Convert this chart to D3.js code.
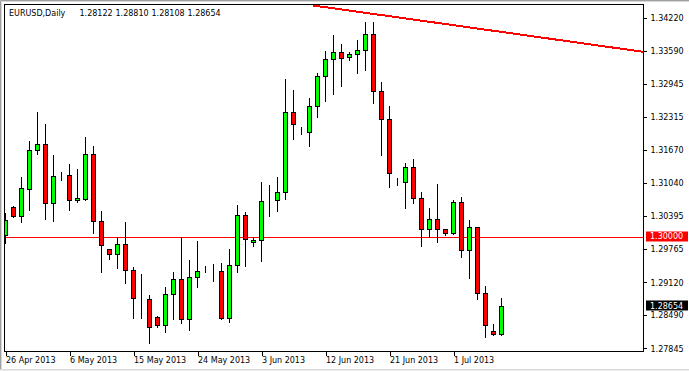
<!DOCTYPE html>
<html>
<head>
<meta charset="utf-8">
<script src="https://cdn.jsdelivr.net/npm/d3@7"></script>
<style>
  html, body { margin: 0; padding: 0; background: #ffffff; }
  svg { display: block; }
  text { font-family: "DejaVu Sans", Verdana, sans-serif; font-size: 8px; }
</style>
</head>
<body>
<svg id="chart" width="689" height="371"></svg>
<script>
// ---------------- data ----------------
const symbolTitle = "EURUSD,Daily";
const dates = [
  "2013-04-26","2013-04-28","2013-04-29","2013-04-30","2013-05-01","2013-05-02","2013-05-03","2013-05-05",
  "2013-05-06","2013-05-07","2013-05-08","2013-05-09","2013-05-10","2013-05-12","2013-05-13","2013-05-14",
  "2013-05-15","2013-05-16","2013-05-17","2013-05-19","2013-05-20","2013-05-21","2013-05-22","2013-05-23",
  "2013-05-24","2013-05-26","2013-05-27","2013-05-28","2013-05-29","2013-05-30","2013-05-31","2013-06-02",
  "2013-06-03","2013-06-04","2013-06-05","2013-06-06","2013-06-07","2013-06-09","2013-06-10","2013-06-11",
  "2013-06-12","2013-06-13","2013-06-14","2013-06-16","2013-06-17","2013-06-18","2013-06-19","2013-06-20",
  "2013-06-21","2013-06-23","2013-06-24","2013-06-25","2013-06-26","2013-06-27","2013-06-28","2013-06-30",
  "2013-07-01","2013-07-02","2013-07-03","2013-07-04","2013-07-05","2013-07-07","2013-07-08"
];
const opens = [
  1.30031,1.30565,1.30392,1.30913,1.31665,1.31787,1.30642,1.31172,1.31183,1.30700,
  1.30731,1.31594,1.30295,1.29755,1.29658,1.29851,1.29350,1.28812,1.28802,1.28443,
  1.28289,1.28887,1.29176,1.28404,1.29215,1.29352,1.29345,1.29330,1.28424,1.29446,
  1.30411,1.29890,1.29925,1.30696,1.30697,1.30855,1.32398,1.32015,1.32012,1.32514,
  1.33093,1.33421,1.33556,1.33459,1.33517,1.33594,1.33903,1.32803,1.32263,1.31043,
  1.31048,1.31337,1.30739,1.30141,1.30334,1.30141,1.30064,1.30662,1.29741,1.30191,
  1.28906,1.28184,1.28122
];
const highs = [
  1.30450,1.30590,1.31150,1.31839,1.32404,1.32173,1.31574,1.31252,1.31401,1.31304,
  1.31927,1.31748,1.30494,1.29762,1.29986,1.30276,1.29408,1.29278,1.28867,1.28468,
  1.29028,1.29317,1.29986,1.29549,1.29915,1.29427,1.29471,1.29485,1.29761,1.30615,
  1.30480,1.29986,1.31053,1.30996,1.31144,1.33041,1.32823,1.32115,1.32668,1.33156,
  1.33581,1.33890,1.33722,1.33556,1.33787,1.34135,1.34140,1.32977,1.32514,1.31125,
  1.31414,1.31491,1.30855,1.30546,1.31015,1.30150,1.30706,1.30758,1.30314,1.30195,
  1.29047,1.28314,1.28810
];
const lows = [
  1.29882,1.30372,1.30287,1.30519,1.31588,1.30345,1.30307,1.31086,1.30519,1.30662,
  1.30700,1.30075,1.29323,1.29574,1.29400,1.29099,1.28424,1.28435,1.27953,1.28262,
  1.28165,1.28404,1.28327,1.28192,1.29022,1.29311,1.29143,1.28404,1.28358,1.29311,
  1.29427,1.29824,1.29535,1.30403,1.30494,1.30731,1.31889,1.31980,1.31754,1.32302,
  1.32622,1.32757,1.32911,1.33413,1.33162,1.33220,1.32583,1.31580,1.30963,1.31001,
  1.30558,1.30642,1.29824,1.29986,1.29890,1.30037,1.30060,1.29612,1.29207,1.28802,
  1.28057,1.28096,1.28108
];
const closes = [
  1.30320,1.30392,1.30932,1.31665,1.31787,1.30642,1.31163,1.31166,1.30700,1.30739,
  1.31594,1.30295,1.29832,1.29658,1.29851,1.29350,1.28810,1.28808,1.28250,1.28289,
  1.28887,1.29176,1.28404,1.29215,1.29330,1.29348,1.29338,1.28424,1.29446,1.30411,
  1.29948,1.29929,1.30681,1.30690,1.30855,1.32398,1.32167,1.32009,1.32514,1.33093,
  1.33421,1.33556,1.33440,1.33517,1.33594,1.33903,1.32803,1.32263,1.31221,1.31037,
  1.31337,1.30739,1.30141,1.30334,1.30141,1.30064,1.30662,1.29741,1.30191,1.28906,
  1.28289,1.28115,1.28654
];
const priceTicks = [1.27845,1.28490,1.29120,1.29765,1.30395,1.31040,1.31670,1.32315,1.32945,1.33590,1.34220];
const dateTickDates  = ["2013-04-26","2013-05-06","2013-05-15","2013-05-24","2013-06-03","2013-06-12","2013-06-21","2013-07-01"];
const dateTickLabels = ["26 Apr 2013","6 May 2013","15 May 2013","24 May 2013","3 Jun 2013","12 Jun 2013","21 Jun 2013","1 Jul 2013"];
const levelPrice = 1.30000;
const lastPrice = 1.28654;
// trend line anchors: bar index (may be fractional / beyond last bar) and price
const trendIdx = [38.54, 79.75];
const trendPrice = [1.34459, 1.33566];

// ---------------- layout ----------------
const W = 689, H = 371;
const plot = { left: 4, top: 4, right: 643, bottom: 351 };
const svg = d3.select("#chart");

const x = d3.scaleLinear().domain([0, dates.length - 1]).range([5, 501]);
const y = d3.scaleLinear().domain([1.27793, 1.34488]).range([plot.bottom, plot.top]);

const candles = dates.map((d, i) => ({ d, i, o: opens[i], h: highs[i], l: lows[i], c: closes[i] }));

// window border
svg.append("rect").attr("x", 0).attr("y", 0).attr("width", W).attr("height", H).attr("fill", "#ffffff");
svg.append("path").attr("d", `M0.5,${H} V0.5 H${W}`).attr("fill", "none").attr("stroke", "#a0a0a0").attr("stroke-width", 1);
svg.append("path").attr("d", `M1.5,${H} V1.5 H${W}`).attr("fill", "none").attr("stroke", "#d8d8d8").attr("stroke-width", 1);
svg.append("line").attr("x1", 0).attr("x2", W).attr("y1", H - 1.5).attr("y2", H - 1.5).attr("stroke", "#d8d8d8");
svg.append("line").attr("x1", 0).attr("x2", W).attr("y1", H - 0.5).attr("y2", H - 0.5).attr("stroke", "#ececec");

// clip
svg.append("defs").append("clipPath").attr("id", "plotclip")
  .append("rect").attr("x", plot.left + 1).attr("y", plot.top + 1)
  .attr("width", plot.right - plot.left - 1).attr("height", plot.bottom - plot.top - 1);

const g = svg.append("g").attr("clip-path", "url(#plotclip)");

// 1.30000 horizontal level
const ly = Math.round(y(levelPrice)) + 0.5;
g.append("line").attr("x1", plot.left).attr("x2", plot.right).attr("y1", ly).attr("y2", ly)
  .attr("stroke", "#ff0000").attr("stroke-width", 1).attr("shape-rendering", "crispEdges");

// wicks
g.selectAll("line.wick").data(candles).join("line").attr("class", "wick")
  .attr("x1", d => Math.round(x(d.i)) + 0.5).attr("x2", d => Math.round(x(d.i)) + 0.5)
  .attr("y1", d => Math.round(y(d.h))).attr("y2", d => Math.round(y(d.l)) + 1)
  .attr("stroke", "#000").attr("stroke-width", 1).attr("shape-rendering", "crispEdges");

// bodies
g.selectAll("rect.body").data(candles).join("rect").attr("class", "body")
  .attr("x", d => Math.round(x(d.i)) - 1.5)
  .attr("width", 4)
  .attr("y", d => Math.round(y(Math.max(d.o, d.c))) + 0.5)
  .attr("height", d => Math.round(y(Math.min(d.o, d.c))) - Math.round(y(Math.max(d.o, d.c))))
  .attr("fill", d => d.c >= d.o ? "#00ff00" : "#ff0000")
  .attr("stroke", "#000").attr("stroke-width", 1).attr("shape-rendering", "crispEdges");

// trend line
g.append("line")
  .attr("x1", x(trendIdx[0])).attr("y1", y(trendPrice[0]))
  .attr("x2", x(trendIdx[1])).attr("y2", y(trendPrice[1]))
  .attr("stroke", "#ff0000").attr("stroke-width", 2).attr("shape-rendering", "crispEdges");

// plot frame
svg.append("rect").attr("x", plot.left + 0.5).attr("y", plot.top + 0.5)
  .attr("width", plot.right - plot.left).attr("height", plot.bottom - plot.top)
  .attr("fill", "none").attr("stroke", "#000").attr("stroke-width", 1).attr("shape-rendering", "crispEdges");

// right price axis
const yAxis = d3.axisRight(y).tickValues(priceTicks).tickFormat(d3.format(".5f")).tickSize(3).tickPadding(4);
const ya = svg.append("g").attr("transform", `translate(${plot.right + 0.5},0)`).call(yAxis);
ya.select(".domain").remove();
ya.selectAll(".tick line").attr("stroke", "#000").attr("shape-rendering", "crispEdges");
ya.selectAll(".tick text").attr("fill", "#000").attr("font-size", 8).attr("font-family", "DejaVu Sans, Verdana, sans-serif")
  .attr("dy", "0.35em");

// bottom date axis
const dateIndex = new Map(dates.map((d, i) => [d, i]));
const xAxis = d3.axisBottom(x)
  .tickValues(dateTickDates.map(d => dateIndex.get(d)))
  .tickFormat((v, k) => dateTickLabels[k]).tickSize(4).tickPadding(3);
const xa = svg.append("g").attr("transform", `translate(0.5,${plot.bottom + 0.5})`).call(xAxis);
xa.select(".domain").remove();
xa.selectAll(".tick line").attr("stroke", "#000").attr("shape-rendering", "crispEdges");
xa.selectAll(".tick text").attr("fill", "#000").attr("font-size", 8).attr("font-family", "DejaVu Sans, Verdana, sans-serif")
  .attr("text-anchor", "start").attr("x", 0).attr("y", 6).attr("dy", "0.71em");

// price label boxes
function priceBox(p, bg) {
  const cy = y(p);
  svg.append("rect").attr("x", 646).attr("y", Math.round(cy) - 5.5).attr("width", 42).attr("height", 10)
    .attr("fill", bg);
  svg.append("text").attr("x", 650).attr("y", cy).attr("dy", "0.35em").attr("fill", "#fff")
    .text(d3.format(".5f")(p));
}
priceBox(levelPrice, "#ff0000");
priceBox(lastPrice, "#000000");

// title
const t = svg.append("text").attr("y", 16).attr("fill", "#000");
t.append("tspan").attr("x", 9).text(symbolTitle);
const last = candles[candles.length - 1];
[last.o, last.h, last.l, last.c].forEach((v, k) => {
  t.append("tspan").attr("x", 79.5 + k * 36).text(d3.format(".5f")(v));
});
</script>
</body>
</html>
